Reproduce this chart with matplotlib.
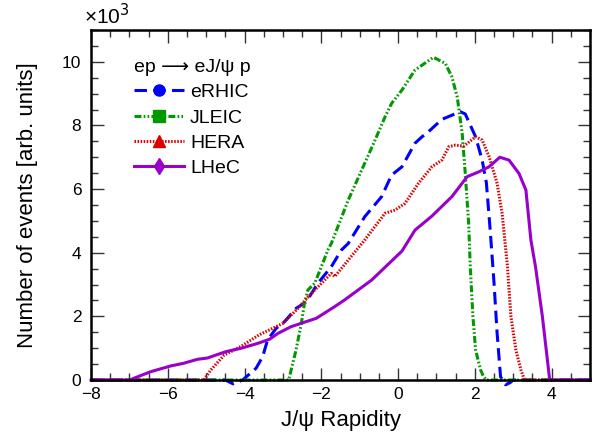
import matplotlib
matplotlib.use("Agg")
import matplotlib.pyplot as plt
from matplotlib.lines import Line2D
from matplotlib.ticker import MultipleLocator

plt.rcParams['font.family'] = ['Liberation Sans', 'DejaVu Sans']
plt.rcParams['lines.scale_dashes'] = False

# ---- data (values in events; plotted in units of 10^3) ----
lhec_x = [-8, -7.0, -6.45, -5.93, -5.59, -5.23, -4.97, -4.49, -4.10, -3.66, -3.35, -3.13, -2.79,
          -2.13, -1.66, -1.40, -0.69, 0.10, 0.44, 0.88, 1.40, 1.80, 2.10, 2.37, 2.65, 2.89,
          3.15, 3.33, 3.46, 3.58, 3.76, 3.89, 3.95, 5.0]
lhec_y = [0, 0, 260, 440, 525, 650, 690, 890, 995, 1150, 1280, 1465, 1675,
          1940, 2300, 2510, 3140, 4050, 4710, 5150, 5760, 6390, 6540, 6700, 7000, 6910,
          6490, 5970, 4400, 3560, 1990, 630, 0, 0]

erhic_x = [-8, -4.5, -4.3, -4.05, -3.70, -3.53, -3.40, -3.18, -2.96, -2.66, -2.39, -2.09, -1.74,
           -1.48, -1.30, -0.87, -0.43, -0.17, 0.10, 0.44, 0.62, 0.79, 1.14, 1.62, 1.75, 2.02,
           2.19, 2.30, 2.40, 2.50, 2.58, 2.67, 2.80, 2.92, 3.0, 5.0]
erhic_y = [0, 0, -120, 0, 370, 730, 1260, 1620, 1830, 2250, 2460, 3040, 3560,
           4080, 4290, 5130, 5760, 6440, 6700, 7440, 7640, 7800, 8190, 8430, 8360, 7640,
           6910, 6200, 4700, 3040, 1470, 100, -150, -80, 0, 0]

jleic_x = [-8, -2.85, -2.66, -2.52, -2.44, -2.35, -2.17, -1.83, -1.74, -1.30, -0.87, -0.60, -0.34,
           -0.17, 0.10, 0.44, 0.92, 1.23, 1.40, 1.54, 1.67, 1.75, 1.84, 1.88, 1.95, 2.02,
           2.15, 2.23, 2.30, 5.0]
jleic_y = [0, 0, 940, 1780, 2410, 2830, 3040, 4080, 4290, 5650, 6810, 7540, 8270,
           8690, 9110, 9740, 10140, 9950, 9530, 8900, 7750, 6490, 4900, 3560, 1990, 940,
           315, 100, 0, 0]

hera_x = [-8, -5.06, -4.88, -4.53, -4.10, -3.62, -3.0, -2.61, -2.26, -1.74, -1.65, -0.87, -0.34,
          -0.08, 0.18, 0.53, 0.88, 1.14, 1.32, 1.49, 1.71, 2.02, 2.19, 2.37, 2.58, 2.71,
          2.85, 2.94, 3.07, 3.20, 3.28, 3.32, 5.0]
hera_y = [0, 0, 315, 785, 1050, 1420, 1780, 2250, 2720, 3350, 3250, 4400, 5240,
          5340, 5550, 6180, 6700, 6910, 7330, 7380, 7350, 7640, 7540, 7020, 6180, 5240,
          3560, 1990, 940, 315, 50, 0, 0]

series = [
    ("eRHIC", erhic_x, erhic_y, "#0000ff", (0, (9, 4.5)), "o", 8),
    ("JLEIC", jleic_x, jleic_y, "#009900", (0, (5, 1.6, 1.2, 1.6, 1.2, 1.6)), "s", 8),
    ("HERA", hera_x, hera_y, "#dd0000", (0, (1.1, 1.1)), "^", 9),
    ("LHeC", lhec_x, lhec_y, "#9900cc", "-", "d", 8),
]

fig = plt.figure(figsize=(5.95, 4.34), dpi=100)
ax = fig.add_axes([0.153, 0.1244, 0.8386, 0.8066])

handles = []
for name, xs, ys, col, ls, mk, ms in series:
    ax.plot(xs, [v / 1000.0 for v in ys], color=col, linestyle=ls, linewidth=2.2,
            clip_on=False, zorder=2)
    handles.append(Line2D([0], [0], color=col, linestyle=ls, linewidth=2.2,
                          marker=mk, markersize=ms, markerfacecolor=col,
                          markeredgecolor=col))

ax.set_xlim(-8, 5)
ax.set_ylim(0, 11)
ax.xaxis.set_major_locator(MultipleLocator(2))
ax.xaxis.set_minor_locator(MultipleLocator(0.5))
ax.yaxis.set_major_locator(MultipleLocator(2))
ax.yaxis.set_minor_locator(MultipleLocator(0.5))
ax.tick_params(which='both', direction='in', top=True, right=True, labelsize=12.5,
               width=1.0, colors='#333333', labelcolor='black')
ax.tick_params(which='major', length=9)
ax.tick_params(which='minor', length=5)
ax.tick_params(axis='x', pad=5)
ax.tick_params(axis='y', pad=7)
for sp in ax.spines.values():
    sp.set_linewidth(1.8)
    sp.set_zorder(3)

ax.set_xlabel("J/\u03c8 Rapidity", fontsize=16, labelpad=6)
ax.set_ylabel("Number of events [arb. units]", fontsize=16, labelpad=17)
ax.text(-0.014, 1.004, "\u00d710$^{3}$", transform=ax.transAxes, fontsize=15,
        ha='left', va='bottom')

leg = ax.legend(handles, [s[0] for s in series], loc='upper left',
                bbox_to_anchor=(0.07, 0.94), frameon=False, fontsize=14,
                title="ep \u27f6 eJ/\u03c8 p", title_fontsize=14, alignment='left',
                handlelength=2.6, handletextpad=0.3, labelspacing=0.40,
                borderaxespad=0.0)

fig.savefig("out.png", dpi=100)
